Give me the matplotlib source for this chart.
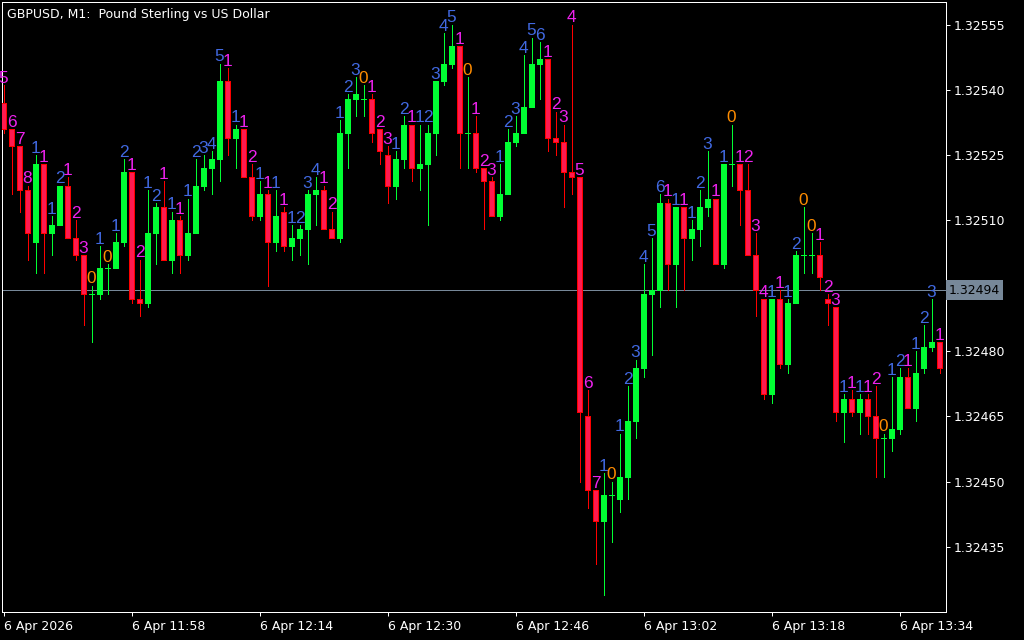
import numpy as np
import matplotlib
matplotlib.use("Agg")
import matplotlib.pyplot as plt

# GBPUSD one-minute bars starting 6 Apr 2026 11:42
opens = [1.32537, 1.32531, 1.32527, 1.32517, 1.32505, 1.32523, 1.32507, 1.32509, 1.32518, 1.32506,
         1.32502, 1.32493, 1.32493, 1.32499, 1.32499, 1.32505, 1.32521, 1.32492, 1.32491, 1.32507,
         1.32513, 1.32501, 1.32510, 1.32502, 1.32507, 1.32518, 1.32522, 1.32524, 1.32542, 1.32529,
         1.32531, 1.32520, 1.32511, 1.32516, 1.32505, 1.32512, 1.32504, 1.32506, 1.32508, 1.32516,
         1.32517, 1.32508, 1.32506, 1.32530, 1.32538, 1.32538, 1.32538, 1.32531, 1.32525, 1.32518,
         1.32524, 1.32532, 1.32522, 1.32523, 1.32530, 1.32542, 1.32546, 1.32550, 1.32530, 1.32530,
         1.32522, 1.32519, 1.32511, 1.32516, 1.32528, 1.32530, 1.32536, 1.32546, 1.32547, 1.32529,
         1.32528, 1.32521, 1.32520, 1.32465, 1.32448, 1.32441, 1.32447, 1.32446, 1.32451, 1.32464,
         1.32476, 1.32493, 1.32494, 1.32514, 1.32500, 1.32513, 1.32506, 1.32508, 1.32513, 1.32515,
         1.32500, 1.32523, 1.32523, 1.32517, 1.32502, 1.32492, 1.32470, 1.32492, 1.32477, 1.32491,
         1.32502, 1.32502, 1.32502, 1.32492, 1.32490, 1.32466, 1.32469, 1.32466, 1.32469, 1.32465,
         1.32460, 1.32460, 1.32462, 1.32474, 1.32467, 1.32476, 1.32481, 1.32482]
highs = [1.32541, 1.32531, 1.32527, 1.32518, 1.32525, 1.32523, 1.32511, 1.32518, 1.32520, 1.32510,
         1.32502, 1.32495, 1.32504, 1.32500, 1.32507, 1.32524, 1.32521, 1.32501, 1.32517, 1.32514,
         1.32519, 1.32512, 1.32511, 1.32515, 1.32524, 1.32525, 1.32526, 1.32546, 1.32545, 1.32532,
         1.32531, 1.32523, 1.32519, 1.32517, 1.32517, 1.32513, 1.32509, 1.32509, 1.32517, 1.32520,
         1.32518, 1.32512, 1.32533, 1.32539, 1.32543, 1.32541, 1.32539, 1.32531, 1.32527, 1.32526,
         1.32534, 1.32532, 1.32532, 1.32532, 1.32542, 1.32553, 1.32555, 1.32550, 1.32543, 1.32534,
         1.32522, 1.32520, 1.32523, 1.32531, 1.32534, 1.32548, 1.32552, 1.32551, 1.32547, 1.32535,
         1.32532, 1.32555, 1.32520, 1.32471, 1.32448, 1.32452, 1.32450, 1.32461, 1.32472, 1.32478,
         1.32500, 1.32506, 1.32516, 1.32515, 1.32513, 1.32513, 1.32510, 1.32517, 1.32526, 1.32515,
         1.32523, 1.32532, 1.32523, 1.32523, 1.32507, 1.32492, 1.32492, 1.32494, 1.32492, 1.32503,
         1.32513, 1.32507, 1.32505, 1.32493, 1.32490, 1.32470, 1.32471, 1.32470, 1.32470, 1.32472,
         1.32461, 1.32474, 1.32476, 1.32476, 1.32480, 1.32486, 1.32492, 1.32482]
lows = [1.32530, 1.32516, 1.32512, 1.32501, 1.32498, 1.32498, 1.32502, 1.32509, 1.32506, 1.32501,
        1.32486, 1.32482, 1.32492, 1.32493, 1.32499, 1.32504, 1.32491, 1.32488, 1.32490, 1.32500,
        1.32501, 1.32498, 1.32498, 1.32501, 1.32507, 1.32517, 1.32516, 1.32519, 1.32525, 1.32522,
        1.32520, 1.32510, 1.32510, 1.32495, 1.32503, 1.32503, 1.32501, 1.32502, 1.32500, 1.32509,
        1.32508, 1.32506, 1.32505, 1.32522, 1.32534, 1.32534, 1.32528, 1.32523, 1.32514, 1.32515,
        1.32522, 1.32519, 1.32517, 1.32509, 1.32525, 1.32541, 1.32545, 1.32522, 1.32522, 1.32521,
        1.32508, 1.32511, 1.32510, 1.32516, 1.32527, 1.32530, 1.32536, 1.32538, 1.32526, 1.32525,
        1.32513, 1.32516, 1.32450, 1.32444, 1.32431, 1.32424, 1.32436, 1.32443, 1.32446, 1.32460,
        1.32474, 1.32479, 1.32490, 1.32494, 1.32490, 1.32494, 1.32501, 1.32504, 1.32511, 1.32500,
        1.32499, 1.32518, 1.32509, 1.32502, 1.32488, 1.32469, 1.32468, 1.32476, 1.32475, 1.32491,
        1.32498, 1.32498, 1.32494, 1.32486, 1.32464, 1.32459, 1.32465, 1.32461, 1.32461, 1.32451,
        1.32451, 1.32457, 1.32461, 1.32467, 1.32464, 1.32475, 1.32480, 1.32475]
closes = [1.32531, 1.32527, 1.32517, 1.32507, 1.32523, 1.32507, 1.32509, 1.32518, 1.32506, 1.32502,
          1.32493, 1.32493, 1.32499, 1.32499, 1.32505, 1.32521, 1.32492, 1.32491, 1.32507, 1.32513,
          1.32501, 1.32510, 1.32502, 1.32507, 1.32518, 1.32522, 1.32524, 1.32542, 1.32529, 1.32531,
          1.32520, 1.32511, 1.32516, 1.32505, 1.32511, 1.32504, 1.32506, 1.32508, 1.32516, 1.32517,
          1.32508, 1.32506, 1.32530, 1.32538, 1.32539, 1.32538, 1.32530, 1.32526, 1.32518, 1.32524,
          1.32532, 1.32522, 1.32523, 1.32530, 1.32542, 1.32546, 1.32550, 1.32530, 1.32530, 1.32522,
          1.32519, 1.32511, 1.32516, 1.32528, 1.32530, 1.32536, 1.32546, 1.32547, 1.32529, 1.32528,
          1.32521, 1.32520, 1.32466, 1.32448, 1.32441, 1.32447, 1.32447, 1.32451, 1.32464, 1.32476,
          1.32493, 1.32494, 1.32514, 1.32500, 1.32513, 1.32506, 1.32508, 1.32513, 1.32515, 1.32500,
          1.32523, 1.32523, 1.32517, 1.32502, 1.32494, 1.32470, 1.32492, 1.32477, 1.32491, 1.32502,
          1.32502, 1.32502, 1.32497, 1.32491, 1.32466, 1.32469, 1.32466, 1.32469, 1.32465, 1.32460,
          1.32460, 1.32462, 1.32474, 1.32467, 1.32475, 1.32481, 1.32482, 1.32476]

current_price = 1.32494
price_ticks = [1.32435, 1.32450, 1.32465, 1.32480, 1.32510, 1.32525, 1.32540, 1.32555]
time_tick_bars = [0, 16, 32, 48, 64, 80, 96, 112]
time_tick_labels = ["6 Apr 2026", "6 Apr 11:58", "6 Apr 12:14", "6 Apr 12:30",
                    "6 Apr 12:46", "6 Apr 13:02", "6 Apr 13:18", "6 Apr 13:34"]
bear_run_before_first_bar = 4

BULL = "#00ff33"
BEAR_FILL = "#ff1a50"
BEAR_EDGE = "#ff0000"
BULL_TXT = "#4169e1"
BEAR_TXT = "#ee22ee"
DOJI_TXT = "#ff8c00"
PX = 0.72  # one pixel in points at 100 dpi

o = np.array(opens)
h = np.array(highs)
l = np.array(lows)
c = np.array(closes)
n = len(o)
x = np.arange(n)
move = np.round((c - o) * 1e5).astype(int)  # body size in points
doji = move == 0
bull = move > 0
bear = move < 0

fig = plt.figure(figsize=(10.24, 6.4), dpi=100, facecolor="black")
ax = fig.add_axes([2 / 1024, 28 / 640, 944 / 1024, 610 / 640], facecolor="black")
# 8 px per bar, bar centres on pixel centres
ax.set_xlim(-0.1875, 117.8125)
ax.set_ylim(1.3242003, 1.3256017)

# last price line
ax.axhline(current_price, color="#778899", lw=PX, zorder=1, antialiased=False)

# wicks
wick_colors = np.where(bear, BEAR_EDGE, BULL)
ax.vlines(x, l, h, colors=wick_colors, lw=PX, zorder=2, antialiased=False)

# bodies
bw = 0.625
bottoms = np.minimum(o, c)
heights = np.abs(c - o)
ax.bar(x[bull], heights[bull], bw, bottom=bottoms[bull], color=BULL,
       edgecolor=BULL, lw=0.5, zorder=3, antialiased=False)
ax.bar(x[bear], heights[bear], bw, bottom=bottoms[bear], color=BEAR_FILL,
       edgecolor=BEAR_EDGE, lw=PX, zorder=3, antialiased=False)
ax.hlines(o[doji], x[doji] - bw / 2, x[doji] + bw / 2, colors=BULL, lw=PX,
          zorder=3, antialiased=False)

# consecutive-bar counters above each high
run_dir, run_len = -1, bear_run_before_first_bar
for i in range(n):
    if doji[i]:
        run_dir, run_len = 0, 0
        txt, col = "0", DOJI_TXT
    else:
        d = 1 if bull[i] else -1
        run_len = run_len + 1 if d == run_dir else 1
        run_dir = d
        txt, col = str(run_len), (BULL_TXT if d > 0 else BEAR_TXT)
    ax.annotate(txt, xy=(x[i], h[i]), xytext=(0, 1.6), textcoords="offset points",
                ha="center", va="baseline", fontsize=12.4, color=col,
                family="Liberation Sans", zorder=4, annotation_clip=False)

# axes frame and scales
for s in ax.spines.values():
    s.set_color("white")
    s.set_linewidth(PX)
ax.yaxis.tick_right()
ax.set_yticks(price_ticks)
ax.set_yticklabels([f"{p:.5f}" for p in price_ticks])
ax.tick_params(axis="y", colors="white", length=3, width=PX, pad=2.2, labelsize=9)
ax.set_xticks(time_tick_bars)
ax.set_xticklabels(time_tick_labels, ha="left")
ax.tick_params(axis="x", colors="white", length=3, width=PX, pad=2.5, labelsize=9)

# last price tag
ax.text(1.0032, current_price, f"{current_price:.5f}", transform=ax.get_yaxis_transform(),
        ha="left", va="center", fontsize=9, color="black", zorder=6, clip_on=False,
        bbox=dict(boxstyle="square,pad=0.25", facecolor="#778899", edgecolor="none"))

fig.text(7 / 1024, 1 - 18 / 640, "GBPUSD, M1:  Pound Sterling vs US Dollar",
         color="white", fontsize=9, ha="left", va="baseline")

fig.savefig("out.png", dpi=100, facecolor="black")
